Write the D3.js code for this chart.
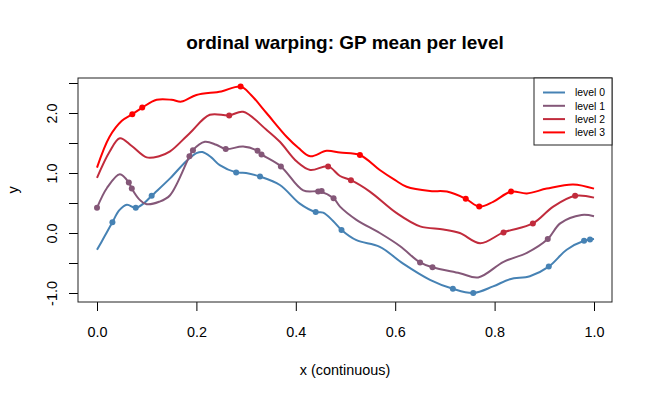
<!DOCTYPE html>
<html>
<head>
<meta charset="utf-8">
<script src="https://cdn.jsdelivr.net/npm/d3@7"></script>
<style>
  body { margin: 0; background: #fff; }
  svg { display: block; font-family: "Liberation Sans", Arial, sans-serif; }
</style>
</head>
<body>
<svg id="chart" width="650" height="400"></svg>
<script>
// ---- data ----
const levels = ["level 0", "level 1", "level 2", "level 3"];
const colors = ["#4682B4", "#845778", "#C12B3C", "#FF0000"];

const xTickValues = [0, 0.2, 0.4, 0.6, 0.8, 1.0];
const xTickLabels = ["0.0", "0.2", "0.4", "0.6", "0.8", "1.0"];
const yTickValues = [-1, -0.5, 0, 0.5, 1, 1.5, 2, 2.5];
const yTickLabels = ["-1.0", "", "0.0", "", "1.0", "", "2.0", ""];

// GP mean curves (x, y)
const curve0x = [0, 0.015, 0.031, 0.045, 0.06, 0.078, 0.095, 0.11, 0.147, 0.18, 0.2, 0.212, 0.23, 0.247, 0.28, 0.3, 0.328, 0.368, 0.408, 0.44, 0.455, 0.475, 0.492, 0.522, 0.569, 0.616, 0.67, 0.716, 0.757, 0.797, 0.831, 0.871, 0.909, 0.945, 0.98, 0.992, 1.0];
const curve0y = [-0.28, -0.06, 0.18, 0.38, 0.47, 0.42, 0.5, 0.62, 0.91, 1.2, 1.33, 1.35, 1.26, 1.13, 1.01, 1.0, 0.94, 0.8, 0.49, 0.35, 0.34, 0.2, 0.05, -0.12, -0.23, -0.51, -0.78, -0.93, -1.0, -0.89, -0.77, -0.72, -0.56, -0.28, -0.13, -0.11, -0.1];

const curve1x = [0, 0.02, 0.046, 0.064, 0.07, 0.085, 0.1, 0.125, 0.147, 0.186, 0.193, 0.217, 0.24, 0.259, 0.294, 0.323, 0.331, 0.37, 0.415, 0.449, 0.476, 0.489, 0.522, 0.569, 0.61, 0.65, 0.675, 0.73, 0.767, 0.818, 0.865, 0.907, 0.932, 0.975, 1.0];
const curve1y = [0.42, 0.75, 0.98, 0.84, 0.74, 0.56, 0.48, 0.52, 0.63, 1.28, 1.38, 1.52, 1.47, 1.4, 1.44, 1.37, 1.31, 1.11, 0.71, 0.69, 0.58, 0.44, 0.22, 0.0, -0.22, -0.49, -0.57, -0.67, -0.74, -0.48, -0.33, -0.1, 0.16, 0.3, 0.28];

const curve2x = [0, 0.025, 0.046, 0.07, 0.1, 0.125, 0.147, 0.186, 0.227, 0.266, 0.294, 0.341, 0.368, 0.402, 0.429, 0.465, 0.489, 0.511, 0.549, 0.603, 0.65, 0.697, 0.73, 0.771, 0.818, 0.877, 0.918, 0.962, 1.0];
const curve2y = [0.92, 1.35, 1.58, 1.45, 1.26, 1.28, 1.36, 1.66, 1.97, 1.96, 2.02, 1.72, 1.52, 1.19, 1.05, 1.11, 0.95, 0.88, 0.69, 0.33, 0.11, 0.06, 0.0, -0.17, 0.01, 0.16, 0.44, 0.62, 0.59];

const curve3x = [0, 0.025, 0.05, 0.071, 0.091, 0.12, 0.15, 0.17, 0.2, 0.25, 0.289, 0.31, 0.341, 0.382, 0.405, 0.429, 0.462, 0.489, 0.529, 0.569, 0.6, 0.623, 0.67, 0.704, 0.742, 0.769, 0.797, 0.833, 0.865, 0.905, 0.958, 1.0];
const curve3y = [1.09, 1.6, 1.87, 1.98, 2.09, 2.22, 2.22, 2.19, 2.3, 2.36, 2.44, 2.3, 2.0, 1.6, 1.42, 1.28, 1.37, 1.34, 1.3, 1.05, 0.88, 0.77, 0.7, 0.69, 0.57, 0.44, 0.52, 0.69, 0.66, 0.74, 0.81, 0.74];

// observed points
const obs0x = [0.031, 0.078, 0.110, 0.280, 0.328, 0.440, 0.492, 0.716, 0.757, 0.909, 0.980, 0.992];
const obs0y = [0.18, 0.42, 0.62, 1.01, 0.94, 0.35, 0.05, -0.93, -1.0, -0.56, -0.13, -0.11];
const obs1x = [0.0, 0.064, 0.070, 0.186, 0.193, 0.259, 0.323, 0.331, 0.370, 0.445, 0.452, 0.476, 0.650, 0.675, 0.907];
const obs1y = [0.42, 0.84, 0.74, 1.28, 1.38, 1.40, 1.37, 1.31, 1.11, 0.69, 0.70, 0.58, -0.49, -0.57, -0.10];
const obs2x = [0.266, 0.465, 0.511, 0.818, 0.877, 0.962];
const obs2y = [1.96, 1.11, 0.88, 0.01, 0.16, 0.62];
const obs3x = [0.071, 0.091, 0.289, 0.529, 0.742, 0.769, 0.833];
const obs3y = [1.98, 2.09, 2.44, 1.30, 0.57, 0.44, 0.69];

const curvesX = [curve0x, curve1x, curve2x, curve3x];
const curvesY = [curve0y, curve1y, curve2y, curve3y];
const obsX = [obs0x, obs1x, obs2x, obs3x];
const obsY = [obs0y, obs1y, obs2y, obs3y];

// ---- layout ----
const svg = d3.select("#chart");
const box = { left: 78, right: 612, top: 78, bottom: 302 };

const x = d3.scaleLinear().domain([0, 1]).range([97, 594]);
const y = d3.scaleLinear().domain([-1, 2.5]).range([293, 83]);

// title
svg.append("text")
  .attr("x", 345).attr("y", 48.5)
  .attr("text-anchor", "middle")
  .attr("font-weight", "bold")
  .attr("font-size", "19px")
  .text("ordinal warping: GP mean per level");

// axes
const xAxis = d3.axisBottom(x)
  .tickValues(xTickValues)
  .tickFormat((d, i) => xTickLabels[i])
  .tickSize(9).tickSizeOuter(0);
const gx = svg.append("g").attr("transform", `translate(0,${box.bottom})`).call(xAxis);
gx.select(".domain").remove();
gx.selectAll("line").attr("stroke", "#000");
gx.selectAll("text")
  .attr("y", 35).attr("dy", 0)
  .attr("font-size", "14.4px").attr("font-family", "Liberation Sans, Arial, sans-serif")
  .attr("fill", "#000");

const yAxis = d3.axisLeft(y)
  .tickValues(yTickValues)
  .tickFormat((d, i) => yTickLabels[i])
  .tickSize(9).tickSizeOuter(0);
const gy = svg.append("g").attr("transform", `translate(${box.left},0)`).call(yAxis);
gy.select(".domain").remove();
gy.selectAll("line").attr("stroke", "#000");
gy.selectAll("text")
  .attr("x", 0).attr("dy", 0)
  .attr("transform", "translate(-21.5,0) rotate(-90)")
  .attr("text-anchor", "middle")
  .attr("font-size", "14.4px").attr("font-family", "Liberation Sans, Arial, sans-serif")
  .attr("fill", "#000");

// axis titles
svg.append("text")
  .attr("x", 345).attr("y", 375)
  .attr("text-anchor", "middle")
  .attr("font-size", "14.4px")
  .text("x (continuous)");
svg.append("text")
  .attr("transform", `translate(18,190) rotate(-90)`)
  .attr("text-anchor", "middle")
  .attr("font-size", "14.4px")
  .text("y");

// curves
const line = d3.line().x(d => x(d[0])).y(d => y(d[1])).curve(d3.curveCatmullRom.alpha(0.5));
const plot = svg.append("g");
levels.forEach((lv, i) => {
  const pts = curvesX[i].map((v, j) => [v, curvesY[i][j]]);
  plot.append("path")
    .datum(pts)
    .attr("d", line)
    .attr("fill", "none")
    .attr("stroke", colors[i])
    .attr("stroke-width", 2)
    .attr("stroke-linejoin", "round");
});
levels.forEach((lv, i) => {
  const pts = obsX[i].map((v, j) => [v, obsY[i][j]]);
  plot.selectAll(null)
    .data(pts).enter().append("circle")
    .attr("cx", d => x(d[0])).attr("cy", d => y(d[1]))
    .attr("r", 3)
    .attr("fill", colors[i]);
});

// box
svg.append("rect")
  .attr("x", box.left).attr("y", box.top)
  .attr("width", box.right - box.left).attr("height", box.bottom - box.top)
  .attr("fill", "none").attr("stroke", "#222").attr("stroke-width", 1);

// legend
const lg = svg.append("g");
lg.append("rect")
  .attr("x", 534).attr("y", box.top)
  .attr("width", box.right - 534).attr("height", 67)
  .attr("fill", "#fff").attr("stroke", "#222").attr("stroke-width", 1);
levels.forEach((lv, i) => {
  const yy = 92.5 + i * 13.3;
  lg.append("line")
    .attr("x1", 543).attr("x2", 565).attr("y1", yy).attr("y2", yy)
    .attr("stroke", colors[i]).attr("stroke-width", 2);
  lg.append("text")
    .attr("x", 575).attr("y", yy + 3.7)
    .attr("font-size", "10.4px")
    .text(lv);
});
</script>
</body>
</html>
